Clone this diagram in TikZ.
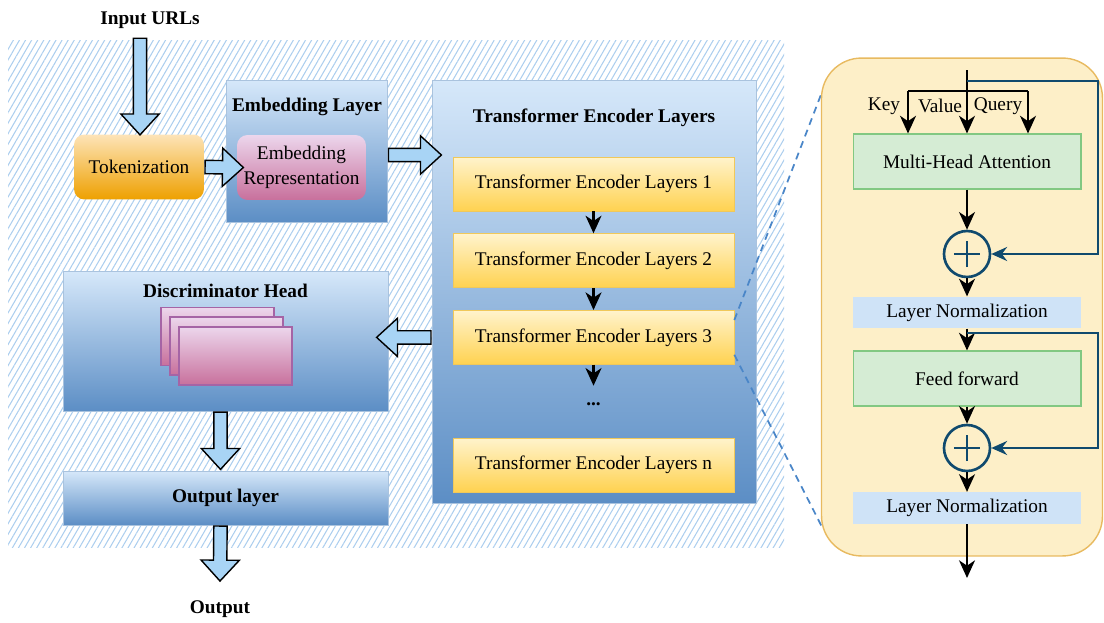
\documentclass[tikz,border=0pt]{standalone}
\usepackage{fontspec}
\setmainfont{Liberation Serif}
\usetikzlibrary{shapes.arrows, arrows.meta, positioning, calc, patterns.meta}

\definecolor{hatch}{RGB}{172,206,238}
\definecolor{boxtop}{RGB}{214,232,250}
\definecolor{boxbot}{RGB}{92,142,197}
\definecolor{boxline}{RGB}{170,195,222}
\definecolor{ylwtop}{RGB}{255,243,204}
\definecolor{ylwbot}{RGB}{255,210,80}
\definecolor{ylwline}{RGB}{240,200,90}
\definecolor{orgtop}{RGB}{253,228,184}
\definecolor{orgbot}{RGB}{238,160,0}
\definecolor{pnktop}{RGB}{236,214,236}
\definecolor{pnkbot}{RGB}{200,112,156}
\definecolor{pnkline}{RGB}{165,100,165}
\definecolor{arrfill}{RGB}{168,212,245}
\definecolor{panelfill}{RGB}{253,239,200}
\definecolor{panelline}{RGB}{232,186,96}
\definecolor{mhafill}{RGB}{213,236,212}
\definecolor{mhaline}{RGB}{130,200,130}
\definecolor{lnfill}{RGB}{207,227,247}
\definecolor{resblue}{RGB}{16,74,110}
\definecolor{zoomblue}{RGB}{74,134,200}

\newcommand{\fatarrow}[2]{%
  \path let \p1=($(#2)-(#1)$), \n1={veclen(\x1,\y1)}, \n2={atan2(\y1,\x1)} in
    node[bigarrow, minimum height=\n1, rotate=\n2, anchor=tail] at (#1) {};}

\begin{document}
\begin{tikzpicture}[x=0.02cm, y=-0.02cm,
    font=\fontsize{11pt}{14pt}\selectfont,
    headtxt/.style={font=\fontsize{11pt}{14pt}\selectfont\bfseries},
    bluebox/.style={rectangle, draw=boxline, line width=0.4pt, top color=boxtop, bottom color=boxbot},
    layerbox/.style={rectangle, draw=ylwline, line width=0.4pt, top color=ylwtop, bottom color=ylwbot, minimum width=5.62cm, minimum height=1.08cm},
    tokbox/.style={rectangle, rounded corners=6pt, top color=orgtop, bottom color=orgbot, minimum width=2.6cm, minimum height=1.3cm},
    repbox/.style={rectangle, rounded corners=6pt, top color=pnktop, bottom color=pnkbot, minimum width=2.58cm, minimum height=1.3cm, align=center},
    sheet/.style={rectangle, draw=pnkline, line width=1pt, top color=pnktop, bottom color=pnkbot, minimum width=2.26cm, minimum height=1.16cm},
    bigarrow/.style={single arrow, draw=black, line width=0.8pt, fill=arrfill, inner xsep=0pt, inner ysep=3.4pt, single arrow head extend=7.1pt, single arrow tip angle=85},
    flow/.style={-{Stealth[length=10pt,width=9pt,inset=3pt]}, line width=1.6pt},
    res/.style={-{Stealth[length=9pt,width=8pt,inset=3pt]}, draw=resblue, line width=1.3pt},
    opbox/.style={rectangle, draw=mhaline, line width=0.6pt, fill=mhafill, minimum width=4.56cm, minimum height=1.1cm},
    normbox/.style={rectangle, fill=lnfill, minimum width=4.56cm, minimum height=0.63cm},
    addop/.style={circle, draw=resblue, line width=1.5pt, minimum size=0.92cm, inner sep=0pt,
      path picture={\draw[resblue, line width=1.5pt]
        ([xshift=-7.5pt]path picture bounding box.center) -- ([xshift=7.5pt]path picture bounding box.center)
        ([yshift=-7.5pt]path picture bounding box.center) -- ([yshift=7.5pt]path picture bounding box.center);}},
    zoomline/.style={draw=zoomblue, line width=1pt, dash pattern=on 4pt off 3pt}
  ]
  \useasboundingbox (0,0) rectangle (1104,622);

  \fill[pattern={Lines[angle=60,distance=3pt,line width=0.6pt]}, pattern color=hatch] (8,40) rectangle (784,547);

  \node[headtxt] (inurl) at (150,20) {Input URLs};
  \node[tokbox] (tok) at (139,167) {Tokenization};
  \node[bluebox, minimum width=3.22cm, minimum height=2.84cm] (emb) at (307,151) {};
  \node[headtxt] at (307,107) {Embedding Layer};
  \node[repbox] (rep) at (301.5,167.5) {Embedding\\Representation};

  \node[bluebox, minimum width=6.48cm, minimum height=8.46cm] (tel) at (594,291.5) {};
  \node[headtxt] at (594,118) {Transformer Encoder Layers};
  \node[layerbox] (l1) at (593.5,184) {Transformer Encoder Layers 1};
  \node[layerbox, below=0.44cm of l1] (l2) {Transformer Encoder Layers 2};
  \node[layerbox, below=0.44cm of l2] (l3) {Transformer Encoder Layers 3};
  \node[headtxt] (dots) at (593.5,404) {...};
  \node[layerbox] (ln) at (593.5,465) {Transformer Encoder Layers n};

  \node[bluebox, minimum width=6.5cm, minimum height=2.8cm] (disc) at (225.5,341) {};
  \node[headtxt] at (225.5,291) {Discriminator Head};
  \node[sheet] (s1) at (217.5,336.5) {};
  \node[sheet] (s2) at (226.5,346) {};
  \node[sheet] (s3) at (235.5,356) {};
  \node[bluebox, minimum width=6.5cm, minimum height=1.08cm] (outl) at (225.5,498) {\bfseries Output layer};
  \node[headtxt] (outp) at (220,609) {Output};

  \fatarrow{$(inurl.south)+(-10,3)$}{$(tok.north)+(1,0)$}
  \fatarrow{tok.east}{$(rep.west)+(6,0)$}
  \fatarrow{$(emb.east)+(0,4)$}{$(tel.west |- emb.east)+(9,4)$}
  \fatarrow{tel.west |- l3}{$(disc.east |- l3)+(-11,0)$}
  \fatarrow{$(disc.south)+(-5,0)$}{$(outl.north)+(-5,-2)$}
  \fatarrow{$(outl.south)+(-5,0)$}{$(outp.north)+(0,-14)$}

  \draw[flow] (l1) -- (l2);
  \draw[flow] (l2) -- (l3);
  \draw[flow] (l3) -- ($(l3.south)+(0,21)$);

  \draw[zoomline] ($(l3.north east)+(0,10)$) -- (822,92);
  \draw[zoomline] ($(l3.south east)+(0,-10)$) -- (822,527);

  \node[rectangle, rounded corners=0.8cm, draw=panelline, line width=0.8pt, fill=panelfill, minimum width=5.62cm, minimum height=9.96cm] (panel) at (962,307) {};
  \node[opbox] (mha) at (967,161.5) {Multi-Head Attention};
  \node[addop] (add1) at (967,254) {};
  \node[normbox] (norm1) at (967,312.5) {Layer Normalization};
  \node[opbox] (ff) at (967,378.5) {Feed forward};
  \node[addop] (add2) at (967,448) {};
  \node[normbox] (norm2) at (967,508) {Layer Normalization};
  \coordinate (top) at (967,70);
  \coordinate (split1) at (967,81);
  \coordinate (split2) at (967,333);
  \coordinate (kbr) at (908,91);
  \coordinate (qbr) at (1028,91);
  \coordinate (rx) at (1098,0);
  \coordinate (bottom) at (967,578);

  \node at (884,106) {Key};
  \node at (940,106) {Value};
  \node at (998,106) {Query};

  \draw[line width=1.6pt] (kbr) -- (qbr);
  \draw[flow] (top) -- (mha);
  \draw[flow] (kbr) -- (kbr |- mha.north);
  \draw[flow] (qbr) -- (qbr |- mha.north);
  \draw[res] (split1) -- (split1 -| rx) |- (add1.east);
  \draw[flow] (mha) -- (add1);
  \draw[flow] (add1) -- (norm1);
  \draw[flow] (norm1) -- (ff);
  \draw[res] (split2) -- (split2 -| rx) |- (add2.east);
  \draw[flow] (ff) -- (add2);
  \draw[flow] (add2) -- (norm2);
  \draw[flow] (norm2) -- (bottom);
\end{tikzpicture}
\end{document}
